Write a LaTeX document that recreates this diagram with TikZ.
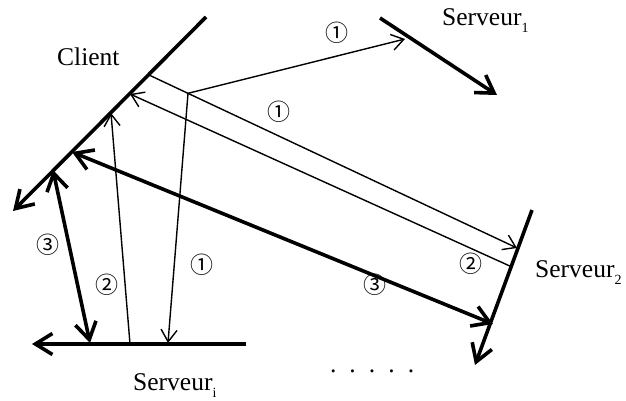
\documentclass[tikz,border=0pt]{standalone}
\usepackage{fontspec}
\setmainfont{Liberation Serif}
\newfontfamily\circfont{Noto Sans CJK JP}
\usetikzlibrary{arrows.meta,calc}
\newcommand\srvsub[1]{\raisebox{-7pt}{\fontsize{14}{14}\selectfont #1}}
\begin{document}
\begin{tikzpicture}[x=1pt,y=-1pt,
  axis/.style={line width=3.6pt, -{Straight Barb[length=17pt,width=21pt]}},
  thickmsg/.style={line width=3.6pt, {Straight Barb[length=17pt,width=21pt]}-{Straight Barb[length=17pt,width=21pt]}},
  thinmsg/.style={line width=1.4pt, -{Straight Barb[length=12pt,width=16pt]}},
  lab/.style={font=\fontsize{25.5}{30}\selectfont, inner sep=0pt, anchor=base west},
  num/.style={font=\circfont\fontsize{23}{23}\selectfont, inner sep=0pt},
]
\useasboundingbox (0,0) rectangle (626,401);

% time lines
\coordinate (CT) at (206,17);  \coordinate (CB) at (13,211);
\coordinate (S1T) at (380,18); \coordinate (S1B) at (497,95);
\coordinate (S2T) at (532,210); \coordinate (S2B) at (475,365);
\coordinate (SiR) at (246,344); \coordinate (SiL) at (32,344);

\draw[axis] (CT) -- (CB);
\draw[axis] (S1T) -- (S1B);
\draw[axis] (S2T) -- (S2B);
\draw[axis] (SiR) -- (SiL);

% message end points
\coordinate (P1) at (149,75);
\coordinate (Q2a) at (517,248);
\coordinate (B) at ($(P1)!0.106!(Q2a)$);
\coordinate (Q1) at (405,39);
\coordinate (Qi1) at (168,343);
\coordinate (R2) at (512,267);
\coordinate (P2) at (130,94);
\coordinate (Ri2) at (130,344);
\coordinate (P2b) at (111,113);
\coordinate (P3a) at (72,152);
\coordinate (Q3a) at (493,324);
\coordinate (P3b) at (53,170);
\coordinate (Q3b) at (90,343);

\draw[thinmsg] (P1) -- (Q2a);
\draw[thinmsg] (B) -- (Q1);
\draw[thinmsg] (B) -- (Qi1);
\draw[thinmsg] (R2) -- (P2);
\draw[thinmsg] (Ri2) -- (P2b);
\draw[thickmsg] (P3a) -- (Q3a);
\draw[thickmsg] (P3b) -- (Q3b);

% labels
\node[lab] (client) at (57,66) {Client};
\node[lab] (s1) at (442,26) {Serveur\srvsub{1}};
\node[lab] (s2) at (535,277) {Serveur\srvsub{2}};
\node[lab] (si) at (133,390) {Serveur\srvsub{i}};

\node[num] (n1a) at (337,33) {①};
\node[num] (n1b) at (279,112) {①};
\node[num] (n1c) at (202,265) {①};
\node[num] (n2a) at (107,285) {②};
\node[num] (n2b) at (471,264) {②};
\node[num] (n3a) at (48,245) {③};
\node[num] (n3b) at (375,285) {③};

\node[lab] (dots) at (329.8,372) {.\hspace{13.1pt}.\hspace{13.1pt}.\hspace{13.1pt}.\hspace{13.1pt}.};
\end{tikzpicture}
\end{document}
